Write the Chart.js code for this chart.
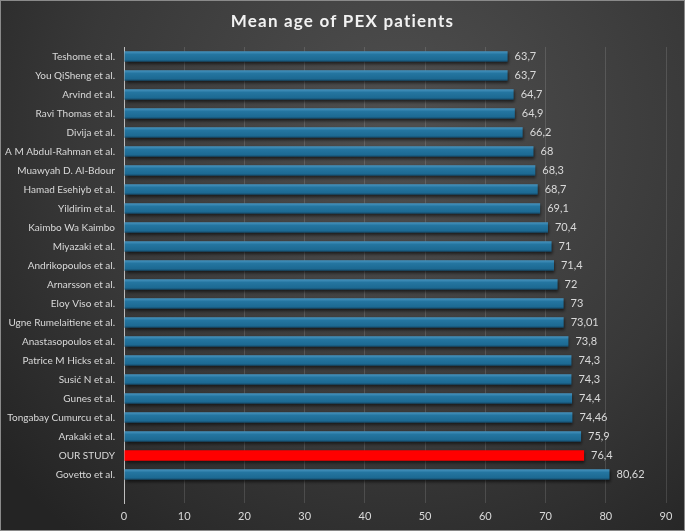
<!DOCTYPE html>
<html>
<head>
<meta charset="utf-8">
<title>Mean age of PEX patients</title>
<script src="https://cdn.jsdelivr.net/npm/chart.js@4.4.1/dist/chart.umd.min.js"></script>
<style>
  html, body { margin: 0; padding: 0; background: #2b2b2b; }
  #wrap { width: 685px; height: 531px; position: relative; }
</style>
</head>
<body>
<div id="wrap"><canvas id="myChart" width="685" height="531"></canvas></div>
<script>
// studies, top to bottom (last empty row keeps the gap above the axis labels)
const studies = [
  'Teshome et al.', 'You QiSheng et al.', 'Arvind et al.', 'Ravi Thomas et al.',
  'Divija et al.', 'A M Abdul-Rahman et al.', 'Muawyah D. Al-Bdour', 'Hamad Esehiyb et al.',
  'Yildirim et al.', 'Kaimbo Wa Kaimbo', 'Miyazaki et al.', 'Andrikopoulos et al.',
  'Arnarsson et al.', 'Eloy Viso et al.', 'Ugne Rumelaitiene et al.', 'Anastasopoulos et al.',
  'Patrice M Hicks et al.', 'Susić N et al.', 'Gunes et al.', 'Tongabay Cumurcu et al.',
  'Arakaki et al.', 'OUR STUDY', 'Govetto et al.', ''
];
const meanAge = [
  63.7, 63.7, 64.7, 64.9, 66.2, 68, 68.3, 68.7, 69.1, 70.4, 71, 71.4,
  72, 73, 73.01, 73.8, 74.3, 74.3, 74.4, 74.46, 75.9, 76.4, 80.62, null
];
const ownStudy = 'OUR STUDY';
const chartTitle = 'Mean age of PEX patients';
const xMin = 0, xMax = 90, xStep = 10;

const txt = '#d9d9d9';
const fontFam = 'Lato, "Open Sans", sans-serif';

function barColor(c) {
  if (studies[c.dataIndex] === ownStudy) return '#ff0000';
  const y = c.chart.scales && c.chart.scales.y;
  if (!y) return '#1f6e98';
  const yc = y.getPixelForValue(c.dataIndex);
  if (!isFinite(yc)) return '#1f6e98';
  const g = c.chart.ctx.createLinearGradient(0, yc - 5, 0, yc + 5);
  g.addColorStop(0, '#4592bd');
  g.addColorStop(0.3, '#2475a0');
  g.addColorStop(0.8, '#1d6a93');
  g.addColorStop(1, '#164f70');
  return g;
}

const bgPlugin = {
  id: 'bg',
  beforeDraw(chart) {
    const ctx = chart.ctx, w = chart.width, h = chart.height;
    ctx.save();
    const g = ctx.createRadialGradient(400, 130, 20, 400, 130, 520);
    g.addColorStop(0, '#4e4e4e');
    g.addColorStop(0.6, '#383838');
    g.addColorStop(1, '#242424');
    ctx.fillStyle = g;
    ctx.fillRect(0, 0, w, h);
    ctx.strokeStyle = '#8a8a8a';
    ctx.lineWidth = 1;
    ctx.strokeRect(0.5, 0.5, w - 1, h - 1);
    // title, spaced like the original
    ctx.fillStyle = '#f2f2f2';
    ctx.font = 'bold 17px ' + fontFam;
    ctx.textAlign = 'center';
    ctx.textBaseline = 'alphabetic';
    ctx.letterSpacing = '1.2px';
    ctx.fillText(chartTitle, w / 2, 27);
    ctx.restore();
  },
  beforeDatasetsDraw(chart) {
    const ctx = chart.ctx;
    ctx.save();
    ctx.shadowColor = 'rgba(0,0,0,0.6)';
    ctx.shadowOffsetY = 2;
    ctx.shadowOffsetX = 1;
    ctx.shadowBlur = 3;
  },
  afterDatasetsDraw(chart) {
    const ctx = chart.ctx;
    ctx.restore();
    // value labels at bar ends
    const meta = chart.getDatasetMeta(0);
    ctx.save();
    ctx.fillStyle = txt;
    ctx.font = '11px ' + fontFam;
    ctx.textBaseline = 'middle';
    ctx.textAlign = 'left';
    meta.data.forEach((bar, i) => {
      const v = meanAge[i];
      if (v === null) return;
      ctx.fillText(String(v).replace('.', ','), bar.x + 7, bar.y);
    });
    ctx.restore();
  }
};

const ctx = document.getElementById('myChart').getContext('2d');
new Chart(ctx, {
  type: 'bar',
  data: {
    labels: studies,
    datasets: [{
      label: 'Mean age',
      data: meanAge,
      backgroundColor: barColor,
      borderWidth: 0,
      barPercentage: 0.54,
      categoryPercentage: 1
    }]
  },
  options: {
    indexAxis: 'y',
    responsive: false,
    animation: false,
    layout: { padding: { top: 47, right: 19, bottom: 0, left: 0 } },
    plugins: {
      legend: { display: false },
      tooltip: { enabled: false },
      title: { display: false }
    },
    scales: {
      x: {
        min: xMin, max: xMax,
        ticks: { stepSize: xStep, color: txt, font: { family: fontFam, size: 11 }, padding: 7 },
        grid: { color: 'rgba(255,255,255,0.13)', drawTicks: false },
        border: { display: false },
        afterFit(s) { s.height = 28; }
      },
      y: {
        ticks: { color: txt, font: { family: fontFam, size: 10 }, padding: 9, autoSkip: false },
        grid: { display: false, drawTicks: false },
        border: { display: true, color: '#bfbfbf', width: 1 },
        afterFit(s) { s.width = 124; }
      }
    }
  },
  plugins: [bgPlugin]
});
</script>
</body>
</html>
